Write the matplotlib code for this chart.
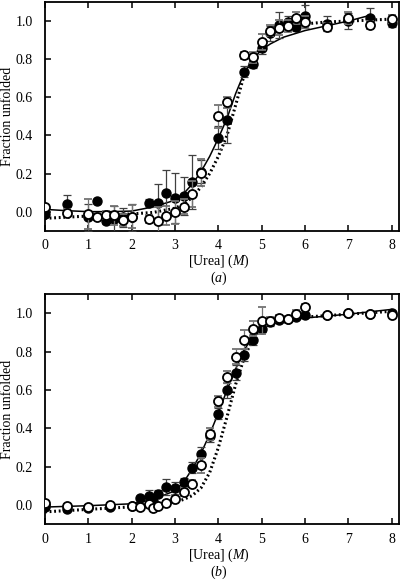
import matplotlib
matplotlib.use("Agg")
import matplotlib.pyplot as plt

plt.rcParams['font.family'] = ['Liberation Serif', 'DejaVu Serif']
plt.rcParams['mathtext.fontset'] = 'custom'
plt.rcParams['mathtext.rm'] = 'Liberation Serif'
plt.rcParams['mathtext.it'] = 'Liberation Serif:italic'

# panel (a)
urea_a = [0, 0.5, 1.0, 1.2, 1.4, 1.6, 1.8, 2.0, 2.4, 2.6, 2.8, 3.0, 3.2, 3.4, 3.6,
          4.0, 4.2, 4.6, 4.8, 5.0, 5.2, 5.4, 5.6, 5.8, 6.0, 6.5, 7.0, 7.5, 8.0]
filled_a = [-0.01, 0.04, -0.03, 0.056, -0.047, -0.038, -0.03, -0.03, 0.044, 0.047,
            0.099, 0.073, 0.083, 0.156, 0.21, 0.388, 0.48, 0.735, 0.775, 0.857,
            0.935, 0.98, 0.996, 0.968, 1.026, 0.986, 1.0, 1.017, 0.99]
filled_a_err = [0.02, 0.045, 0.07, 0.01, 0.02, 0.07, 0.05, 0.07, 0.02, 0.10, 0.12,
                0.13, 0.10, 0.14, 0.06, 0.06, 0.12, 0.03, 0.02, 0.03, 0.04, 0.07,
                0.03, 0.02, 0.06, 0.04, 0.04, 0.05, 0.02]
open_a = [0.026, -0.005, -0.012, -0.026, -0.017, -0.02, -0.043, -0.026, -0.038,
          -0.047, -0.021, -0.003, 0.026, 0.092, 0.205, 0.50, 0.574, 0.82, 0.81,
          0.89, 0.95, 0.965, 0.974, 1.017, 0.996, 0.97, 1.017, 0.98, 1.012]
open_a_err = [0.01, 0.02, 0.08, 0.02, 0.02, 0.05, 0.03, 0.06, 0.02, 0.07, 0.05,
              0.06, 0.04, 0.07, 0.07, 0.06, 0.03, 0.02, 0.03, 0.04, 0.03, 0.04,
              0.03, 0.03, 0.03, 0.02, 0.03, 0.02, 0.02]
solid_a_x = [0, 0.5, 1, 1.5, 2, 2.5, 3.0, 3.2, 3.4, 3.6, 3.8, 4.0, 4.2, 4.4, 4.6,
             4.8, 5.0, 5.2, 5.5, 6.0, 6.5, 7.0, 7.5]
solid_a_y = [0.012, 0.005, 0.0, 0.0, 0.003, 0.025, 0.06, 0.095, 0.145, 0.21, 0.29,
             0.385, 0.49, 0.62, 0.73, 0.80, 0.85, 0.88, 0.915, 0.95, 0.975, 1.0, 1.03]
dotted_a_x = [0, 1, 2, 2.5, 3.0, 3.2, 3.4, 3.6, 3.8, 4.0, 4.2, 4.4, 4.6, 4.8, 5.0,
              5.2, 5.4, 5.6, 6.0, 6.5, 7.0, 7.5, 8.0]
dotted_a_y = [-0.035, -0.023, -0.012, -0.004, 0.018, 0.04, 0.075, 0.13, 0.2, 0.29,
              0.40, 0.56, 0.72, 0.80, 0.87, 0.92, 0.95, 0.965, 0.985, 0.995, 1.0,
              1.005, 1.01]

# panel (b)
urea_b = [0, 0.5, 1.0, 1.5, 2.0, 2.2, 2.4, 2.5, 2.6, 2.8, 3.0, 3.2, 3.4, 3.6, 3.8,
          4.0, 4.2, 4.4, 4.6, 4.8, 5.0, 5.2, 5.4, 5.6, 5.8, 6.0, 6.5, 7.0, 7.5, 8.0]
filled_b = [-0.01, -0.02, -0.015, -0.01, -0.005, 0.037, 0.05, 0.021, 0.06, 0.094,
            0.09, 0.122, 0.195, 0.265, 0.36, 0.477, 0.598, 0.69, 0.783, 0.862,
            0.92, 0.955, 0.965, 0.968, 0.98, 0.99, 0.99, 1.0, 0.995, 1.0]
filled_b_err = [0.0, 0.0, 0.0, 0.0, 0.0, 0.01, 0.03, 0.02, 0.02, 0.04, 0.03, 0.02,
                0.03, 0.04, 0.03, 0.03, 0.04, 0.04, 0.03, 0.03, 0.02, 0.02, 0.01,
                0.01, 0.01, 0.01, 0.01, 0.01, 0.01, 0.01]
open_b = [0.012, -0.005, -0.009, 0.0, -0.005, -0.01, 0.004, -0.017, -0.002, 0.009,
          0.033, 0.07, 0.112, 0.207, 0.37, 0.541, 0.667, 0.773, 0.862, 0.92, 0.96,
          0.96, 0.973, 0.968, 0.995, 1.03, 0.992, 1.0, 0.995, 0.992]
open_b_err = [0.01, 0.01, 0.01, 0.01, 0.01, 0.01, 0.01, 0.01, 0.01, 0.01, 0.02,
              0.02, 0.02, 0.04, 0.03, 0.03, 0.03, 0.04, 0.05, 0.04, 0.07, 0.02,
              0.02, 0.02, 0.02, 0.02, 0.01, 0.01, 0.01, 0.01]
solid_b_x = [0, 1, 2, 2.5, 3.0, 3.2, 3.4, 3.6, 3.8, 4.0, 4.2, 4.4, 4.6, 4.8, 5.0,
             5.2, 5.5, 6.0, 7.0, 8.0]
solid_b_y = [-0.01, -0.003, 0.007, 0.03, 0.075, 0.12, 0.19, 0.27, 0.37, 0.48, 0.6,
             0.71, 0.81, 0.88, 0.925, 0.945, 0.96, 0.975, 0.995, 1.02]
dotted_b_x = [0, 1, 2, 2.8, 3.2, 3.4, 3.6, 3.8, 4.0, 4.2, 4.4, 4.6, 4.8, 5.0, 5.2,
              5.5, 6, 7, 8]
dotted_b_y = [-0.035, -0.022, -0.009, 0.0, 0.03, 0.05, 0.09, 0.17, 0.30, 0.46, 0.63,
              0.77, 0.87, 0.925, 0.95, 0.965, 0.98, 0.995, 1.01]

fig = plt.figure(figsize=(4.03, 5.82), dpi=100)
ax_a = fig.add_axes([0.1117, 0.6036, 0.8796, 0.3930])
ax_b = fig.add_axes([0.1117, 0.0991, 0.8796, 0.3957])

panels = [
    (ax_a, urea_a, filled_a, filled_a_err, open_a, open_a_err,
     solid_a_x, solid_a_y, dotted_a_x, dotted_a_y, '(' + r'$\mathit{a}$' + ')', 0.521),
    (ax_b, urea_b, filled_b, filled_b_err, open_b, open_b_err,
     solid_b_x, solid_b_y, dotted_b_x, dotted_b_y, '(' + r'$\mathit{b}$' + ')', 0.016),
]

for ax, x, yf, ef, yo, eo, sx, sy, dx, dy, tag, ty in panels:
    ax.plot(sx, sy, color='black', lw=1.1, zorder=2)
    ax.plot(dx, dy, color='black', lw=2.2, ls=(0, (0.6, 0.9)), zorder=2)
    ax.errorbar(x, yf, yerr=ef, fmt='o', color='black', ms=6.5, mfc='black',
                mec='black', ecolor='0.25', elinewidth=0.9, capsize=3,
                capthick=0.9, zorder=3)
    ax.errorbar(x, yo, yerr=eo, fmt='o', color='black', ms=6.5, mfc='white',
                mec='black', mew=1.3, ecolor='0.45', elinewidth=0.9, capsize=3,
                capthick=0.9, zorder=4)
    ax.set_xlim(0, 8.18)
    ax.set_ylim(-0.1, 1.1)
    ax.set_xticks(range(0, 9))
    ax.set_yticks([0.0, 0.2, 0.4, 0.6, 0.8, 1.0])
    ax.set_yticklabels(['0.0', '0.2', '0.4', '0.6', '0.8', '1.0'])
    ax.tick_params(direction='in', length=4, width=1.1, labelsize=10,
                   top=True, right=False)
    ax.tick_params(axis='y', pad=9)
    ax.tick_params(axis='x', pad=6)
    for s in ax.spines.values():
        s.set_linewidth(1.3)
    ax.set_ylabel('Fraction unfolded', fontsize=10)
    ax.yaxis.set_label_coords(-0.088, 0.5)
    ax.set_xlabel('[Urea] (' + r'$\mathit{M}$' + ')', fontsize=10)
    ax.xaxis.set_label_coords(0.49, -0.097)
    fig.text(0.543, ty, tag, ha='center', va='center', fontsize=10)

fig.savefig('out.png', dpi=100)
